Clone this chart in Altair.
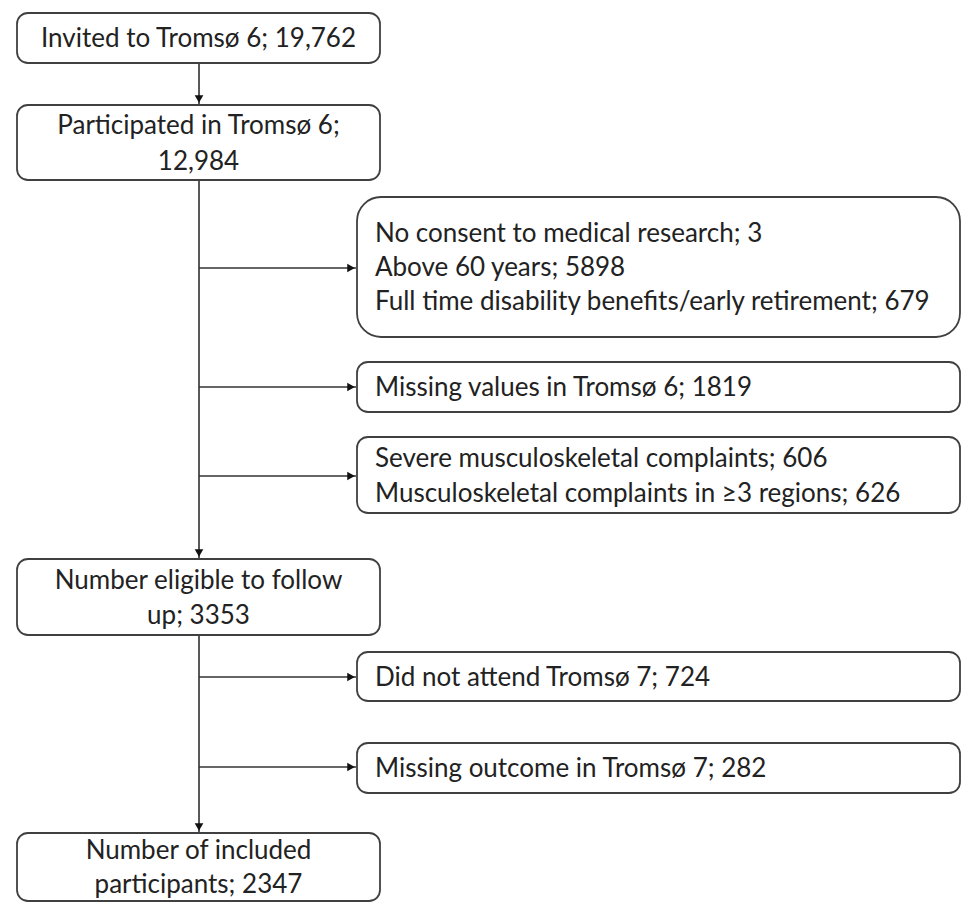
import altair as alt
import pandas as pd

# ---- content of the flow diagram ----
box_lines = [
    ["Invited to Tromsø 6; 19,762"],
    ["Participated in Tromsø 6;", "12,984"],
    ["No consent to medical research; 3", "Above 60 years; 5898",
     "Full time disability benefits/early retirement; 679"],
    ["Missing values in Tromsø 6; 1819"],
    ["Severe musculoskeletal complaints; 606",
     "Musculoskeletal complaints in \u22653 regions; 626"],
    ["Number eligible to follow", "up; 3353"],
    ["Did not attend Tromsø 7; 724"],
    ["Missing outcome in Tromsø 7; 282"],
    ["Number of included", "participants; 2347"],
]
box_kind = ["main", "main", "side", "side", "side", "main", "side", "side", "main"]

# ---- layout (pixel positions of the page) ----
box_top = [13, 105, 197, 362, 437, 559, 652, 743, 833]
box_bottom = [63, 180, 337, 412, 513, 635, 701, 793, 901]
line_gap = [0, 36, 34, 0, 35, 35, 0, 0, 34]
branch_y = [268, 387, 476, 677, 767]
MAIN_X0, MAIN_X1 = 17, 380
SIDE_X0, SIDE_X1 = 357, 960
SPINE_X = 199
SIDE_TEXT_X = 375

rect_rows, text_rows = [], []
for i, lines in enumerate(box_lines):
    main = box_kind[i] == "main"
    x0, x1 = (MAIN_X0, MAIN_X1) if main else (SIDE_X0, SIDE_X1)
    rect_rows.append(dict(id=i, x0=x0, x1=x1, y0=box_top[i], y1=box_bottom[i],
                          big=(i == 2)))
    cy = (box_top[i] + box_bottom[i]) / 2
    n = len(lines)
    for j, t in enumerate(lines):
        text_rows.append(dict(
            id=i, text=t, main=main,
            x=(x0 + x1) / 2 if main else SIDE_TEXT_X,
            y=cy + (j - (n - 1) / 2) * line_gap[i] + 1))
rects = pd.DataFrame(rect_rows)
texts = pd.DataFrame(text_rows)

spine_pairs = [(0, 1), (1, 5), (5, 8)]
spine = pd.DataFrame([dict(x=SPINE_X, y0=box_bottom[a], y1=box_top[b] - 1) for a, b in spine_pairs])
branches = pd.DataFrame([dict(x0=SPINE_X, x1=SIDE_X0 - 1, y=y) for y in branch_y])

xs = alt.Scale(domain=[8, 962], nice=False, zero=False)
ys = alt.Scale(domain=[8, 903], nice=False, zero=False, reverse=True)
STROKE = "#404040"
FONT = "Lato"

def X(f):
    return alt.X(f, type="quantitative", scale=xs, axis=None)

def Y(f):
    return alt.Y(f, type="quantitative", scale=ys, axis=None)

base_rect = alt.Chart(rects)
rect_small = base_rect.transform_filter("!datum.big").mark_rect(
    fill="white", stroke=STROKE, strokeWidth=1.8, cornerRadius=11
).encode(x=X("x0"), x2="x1", y=Y("y0"), y2="y1")
rect_big = base_rect.transform_filter("datum.big").mark_rect(
    fill="white", stroke=STROKE, strokeWidth=1.8, cornerRadius=24
).encode(x=X("x0"), x2="x1", y=Y("y0"), y2="y1")

spine_lines = alt.Chart(spine).mark_rule(color="#222", strokeWidth=1.5).encode(
    x=X("x"), y=Y("y0"), y2="y1")
spine_heads = alt.Chart(spine).mark_point(
    shape="triangle-down", filled=True, color="#111", size=75, opacity=1, yOffset=-5
).encode(x=X("x"), y=Y("y1"))

branch_lines = alt.Chart(branches).mark_rule(color="#333", strokeWidth=1.5).encode(
    x=X("x0"), x2="x1", y=Y("y"))
branch_heads = alt.Chart(branches).mark_point(
    shape="triangle-right", filled=True, color="#111", size=75, opacity=1, xOffset=-5
).encode(x=X("x1"), y=Y("y"))

text_main = alt.Chart(texts).transform_filter("datum.main").mark_text(
    font=FONT, fontSize=26, color="#222", align="center", baseline="middle"
).encode(x=X("x"), y=Y("y"), text="text:N")
text_side = alt.Chart(texts).transform_filter("!datum.main").mark_text(
    font=FONT, fontSize=26, color="#222", align="left", baseline="middle"
).encode(x=X("x"), y=Y("y"), text="text:N")

chart = alt.layer(
    spine_lines, branch_lines, rect_small, rect_big,
    spine_heads, branch_heads, text_main, text_side
).properties(
    width=954, height=895, padding=0, background="white",
    autosize=alt.AutoSizeParams(type="none")
).configure(view=alt.ViewConfig(stroke=None))

chart.save("out.html", embed_options={"renderer": "svg", "actions": False})
